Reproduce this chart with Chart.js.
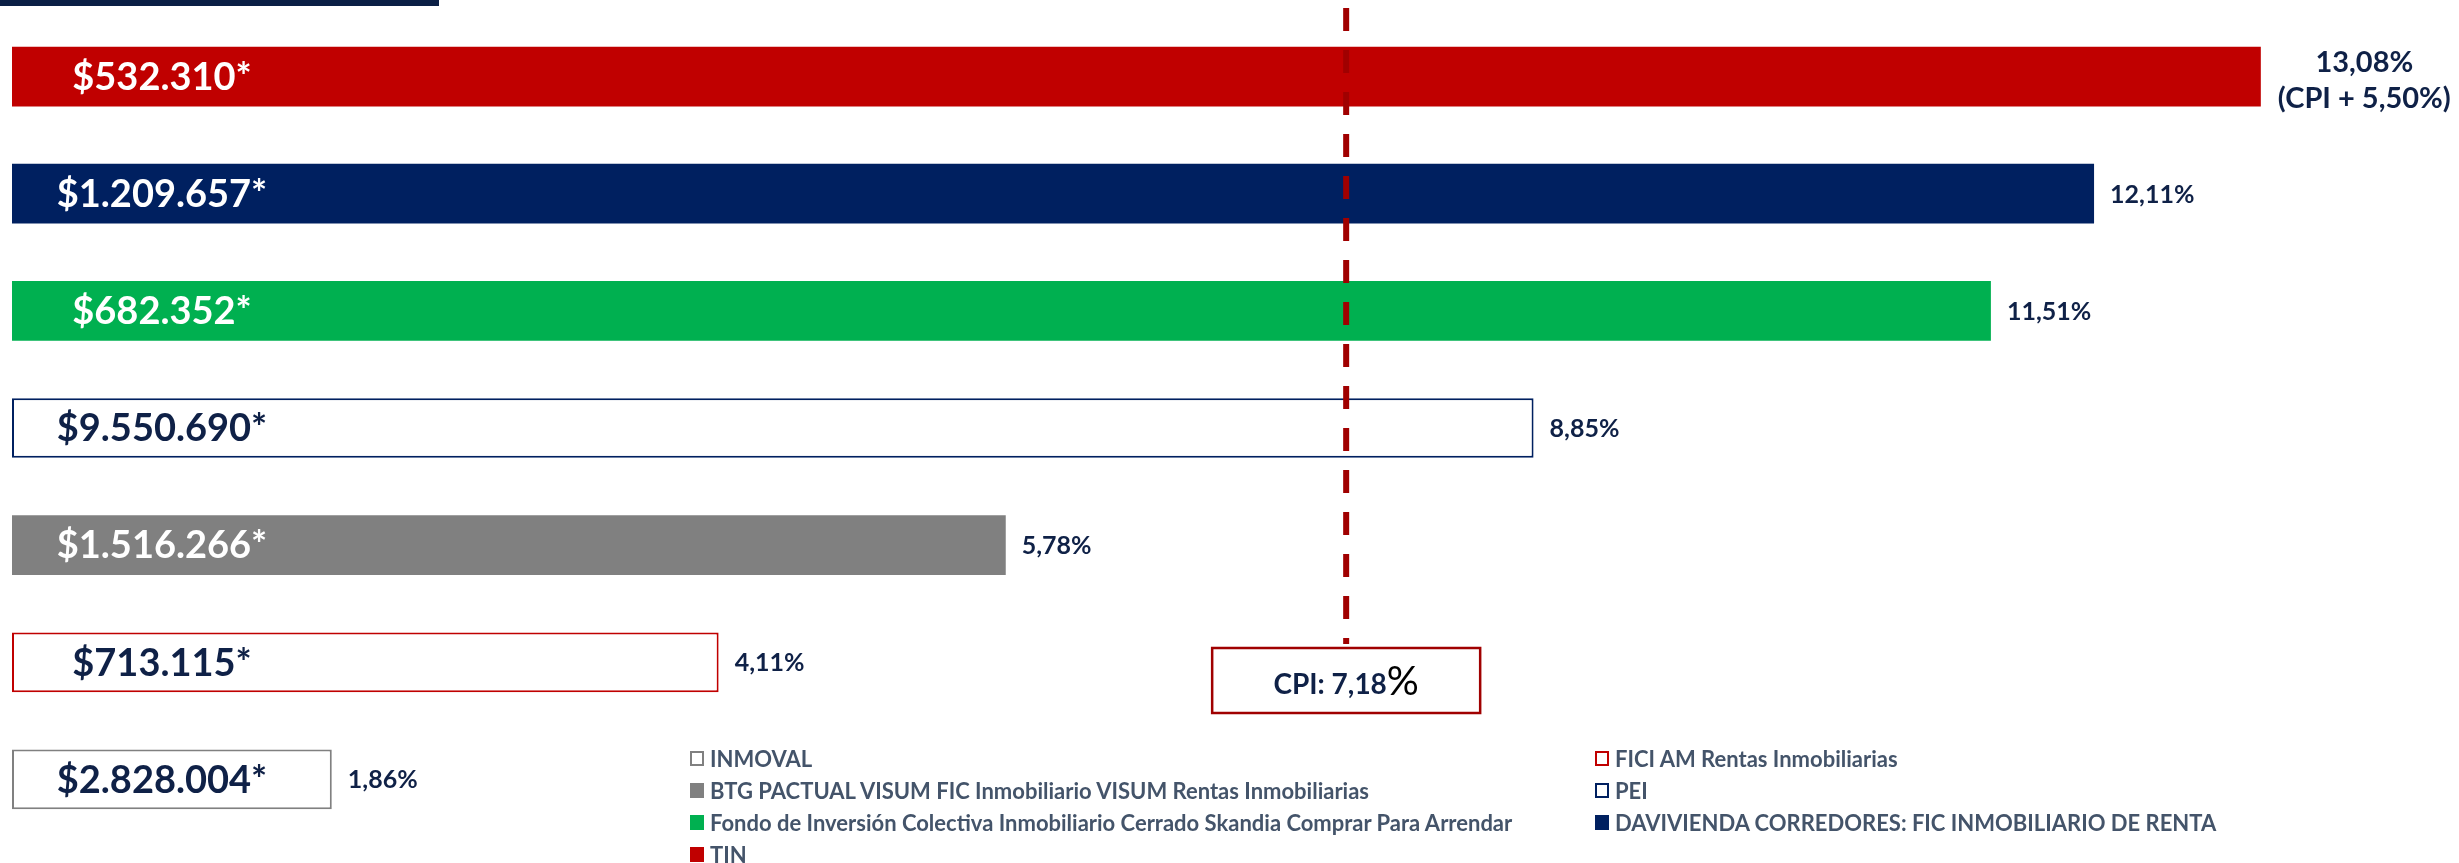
<!DOCTYPE html>
<html>
<head>
<meta charset="utf-8">
<script src="https://cdn.jsdelivr.net/npm/chart.js@4.4.1/dist/chart.umd.min.js"></script>
<style>
  html, body { margin: 0; padding: 0; background: #fff; }
  #wrap { position: relative; width: 2459px; height: 863px; overflow: hidden; }
  #topRule { position: absolute; left: 0; top: 0; width: 439px; height: 6px; background: #0b1f45; }
  #legend {
    position: absolute; left: 690px; top: 742px;
    display: grid; grid-template-columns: 905px auto;
    font: 700 22px Lato, "Open Sans", sans-serif; color: #44546A;
  }
  .item { display: flex; align-items: center; height: 32px; white-space: nowrap; }
  .swatch { width: 14px; height: 15px; box-sizing: border-box; margin-right: 6px; }
</style>
</head>
<body>
<div id="wrap">
  <canvas id="returnsChart" width="2459" height="863"></canvas>
  <div id="topRule"></div>
  <div id="legend"></div>
</div>
<script>
// funds, top bar first
const funds = [
    "TIN",
    "DAVIVIENDA CORREDORES: FIC INMOBILIARIO DE RENTA",
    "Fondo de Inversión Colectiva Inmobiliario Cerrado Skandia Comprar Para Arrendar",
    "PEI",
    "BTG PACTUAL VISUM FIC Inmobiliario VISUM Rentas Inmobiliarias",
    "FICI AM Rentas Inmobiliarias",
    "INMOVAL"
];
const returns = [13.08, 12.11, 11.51, 8.85, 5.78, 4.11, 1.86];
const fundSizes = [532310, 1209657, 682352, 9550690, 1516266, 713115, 2828004];
const fillColors = ["#C00000", "#002060", "#00B050", "#FFFFFF", "#808080", "#FFFFFF", "#FFFFFF"];
const edgeColors = ["#C00000", "#002060", "#00B050", "#002060", "#808080", "#C00000", "#808080"];

const cpi = 7.18;
const tinSpread = 5.50;
const cpiMarkerAt = 7.76; // where the dashed CPI marker sits on the return axis in the original

const navy = "#0f2147";
const markerRed = "#A00000";

function pct(v) {
    return v.toFixed(2).replace(".", ",") + "%";
}
function money(v) {
    return "$" + String(v).replace(/\B(?=(\d{3})+(?!\d))/g, ".") + "*";
}

// text on and next to the bars
const barLabels = {
    id: "barLabels",
    afterDatasetsDraw(chart) {
        const ctx = chart.ctx;
        const left = chart.chartArea.left;
        const bars = chart.getDatasetMeta(0).data;
        ctx.save();
        ctx.textBaseline = "middle";
        bars.forEach((bar, i) => {
            ctx.font = "bold 38px Lato";
            ctx.textAlign = "center";
            ctx.fillStyle = fillColors[i] === "#FFFFFF" ? navy : "#ffffff";
            ctx.fillText(money(fundSizes[i]), left + 150, bar.y + 1);

            ctx.fillStyle = navy;
            if (i === 0) {
                ctx.font = "bold 29px Lato";
                const line2 = "(CPI + " + pct(tinSpread) + ")";
                const w = ctx.measureText(line2).width;
                ctx.textAlign = "center";
                ctx.fillText(pct(returns[i]), bar.x + 17 + w / 2, bar.y - 14);
                ctx.fillText(line2, bar.x + 17 + w / 2, bar.y + 22);
            } else {
                ctx.font = "bold 25px Lato";
                ctx.textAlign = "left";
                ctx.fillText(pct(returns[i]), bar.x + 16, bar.y + 1);
            }
        });
        ctx.restore();
    }
};

// dashed CPI marker with its boxed label
const cpiMarker = {
    id: "cpiMarker",
    afterDatasetsDraw(chart) {
        const ctx = chart.ctx;
        const x = chart.scales.x.getPixelForValue(cpiMarkerAt);
        const boxTop = chart.chartArea.bottom - 190;
        const boxW = 268, boxH = 65;
        ctx.save();
        ctx.strokeStyle = markerRed;
        ctx.lineWidth = 6;
        ctx.setLineDash([23, 19]);
        ctx.beginPath();
        ctx.moveTo(x, 8);
        ctx.lineTo(x, boxTop - 4);
        ctx.stroke();
        ctx.setLineDash([]);

        ctx.fillStyle = "#ffffff";
        ctx.fillRect(x - boxW / 2, boxTop, boxW, boxH);
        ctx.lineWidth = 2.5;
        ctx.strokeRect(x - boxW / 2, boxTop, boxW, boxH);

        const main = "CPI: " + cpi.toFixed(2).replace(".", ",");
        ctx.font = "bold 28px Lato";
        const w1 = ctx.measureText(main).width;
        ctx.font = "40px Lato";
        const w2 = ctx.measureText("%").width;
        const start = x - (w1 + w2) / 2;
        ctx.textBaseline = "alphabetic";
        ctx.textAlign = "left";
        ctx.font = "bold 28px Lato";
        ctx.fillStyle = navy;
        ctx.fillText(main, start, boxTop + 46);
        ctx.font = "40px Lato";
        ctx.fillStyle = "#000000";
        ctx.fillText("%", start + w1, boxTop + 47);
        ctx.restore();
    }
};

const data = {
    labels: funds,
    datasets: [
        {
            data: returns,
            backgroundColor: fillColors,
            borderColor: edgeColors,
            borderWidth: fillColors.map((c) => (c === "#FFFFFF" ? 2 : 0)),
            borderSkipped: false,
            barPercentage: 0.51,
            categoryPercentage: 1,
        },
    ],
};

const options = {
    indexAxis: "y",
    responsive: false,
    animation: false,
    devicePixelRatio: 1,
    layout: {
        padding: { left: 12, right: 40, top: 18, bottom: 25 },
    },
    scales: {
        x: { display: false, min: 0, max: 14 },
        y: { display: false },
    },
    plugins: {
        legend: { display: false },
        tooltip: { enabled: false },
    },
};

const ctx = document.getElementById("returnsChart").getContext("2d");
const returnsChart = new Chart(ctx, {
    type: "bar",
    data: data,
    options: options,
    plugins: [cpiMarker, barLabels],
});

// legend: bottom bar first, two columns filled row by row
const legendBox = document.getElementById("legend");
for (let i = funds.length - 1; i >= 0; i--) {
    const item = document.createElement("div");
    item.className = "item";
    const sw = document.createElement("span");
    sw.className = "swatch";
    sw.style.background = fillColors[i];
    sw.style.border = fillColors[i] === "#FFFFFF" ? "2px solid " + edgeColors[i] : "none";
    const txt = document.createElement("span");
    txt.textContent = funds[i];
    item.appendChild(sw);
    item.appendChild(txt);
    legendBox.appendChild(item);
}
</script>
</body>
</html>
